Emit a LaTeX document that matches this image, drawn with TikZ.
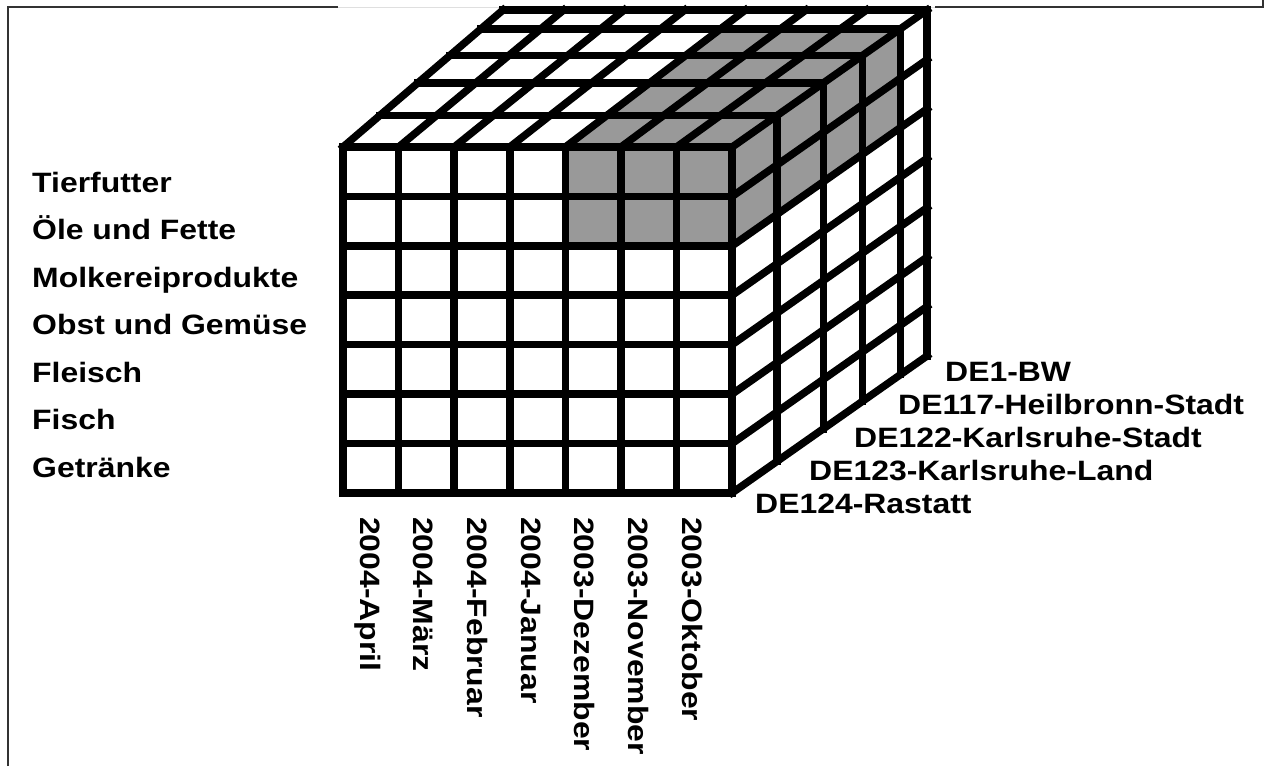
\documentclass[tikz,border=0pt]{standalone}
\usepackage{fontspec}
\setmainfont{Liberation Sans}[FakeStretch=1.14]
\definecolor{cellgray}{RGB}{153,153,153}
\newcommand{\drawc}{\draw[line width=7.5pt, line cap=rect]}
\tikzset{lbl/.style={font=\bfseries\fontsize{28}{30}\selectfont, inner sep=0pt, text height=20pt, text depth=0pt, anchor=west}}

\begin{document}
\begin{tikzpicture}[x=1pt, y=-1pt,
  declare function={cx(\u,\w)=343+55.6*\u+\w*(160+5*\u); cy(\v,\w)=147+49.4*\v-137*\w;}]
\useasboundingbox (0,0) rectangle (1266,766);
% Rahmen
\draw[line width=1.5pt, black!80] (8,766) -- (8,7) -- (338,7);
\draw[line width=1.5pt, black!80] (935,7) -- (1263,7) -- (1263,0);
\draw[gray!25] (338,7) -- (935,7);

% graue Zellen
\fill[cellgray] ({cx(4,0)},{cy(0,0)}) -- ({cx(7,0)},{cy(0,0)}) -- ({cx(7,0)},{cy(2,0)}) -- ({cx(4,0)},{cy(2,0)}) -- cycle;
\fill[cellgray] ({cx(4,0)},{cy(0,0)}) -- ({cx(7,0)},{cy(0,0)}) -- ({cx(7,0.862)},{cy(0,0.862)}) -- ({cx(4,0.862)},{cy(0,0.862)}) -- cycle;
\fill[cellgray] ({cx(7,0)},{cy(0,0)}) -- ({cx(7,0)},{cy(2,0)}) -- ({cx(7,0.862)},{cy(2,0.862)}) -- ({cx(7,0.862)},{cy(0,0.862)}) -- cycle;

% Vorderseite
\foreach \i in {0,...,7} {
  \drawc ({cx(\i,0)},{cy(0,0)}) -- ({cx(\i,0)},{cy(7,0)});
  \drawc ({cx(0,0)},{cy(\i,0)}) -- ({cx(7,0)},{cy(\i,0)});
}
% Oberseite
\foreach \i in {0,...,7}
  \drawc ({cx(\i,0)},{cy(0,0)}) -- ({cx(\i,1)},{cy(0,1)});
\foreach \t in {0.23,0.467,0.667,0.862,1}
  \drawc ({cx(0,\t)},{cy(0,\t)}) -- ({cx(7,\t)},{cy(0,\t)});
% rechte Seite
\foreach \i in {1,...,7}
  \drawc ({cx(7,0)},{cy(\i,0)}) -- ({cx(7,1)},{cy(\i,1)});
\foreach \t in {0.23,0.467,0.667,0.862,1}
  \drawc ({cx(7,\t)},{cy(0,\t)}) -- ({cx(7,\t)},{cy(7,\t)});

% Produkte
\foreach \txt [count=\n] in {Tierfutter, Öle und Fette, Molkereiprodukte, Obst und Gemüse, Fleisch, Fisch, Getränke}
  \node[lbl] (row\n) at (32,{182+47.5*(\n-1)}) {\txt};
% Monate
\foreach \txt [count=\n] in {2004-April, 2004-März, 2004-Februar, 2004-Januar, 2003-Dezember, 2003-November, 2003-Oktober}
  \node[lbl, rotate=-90] (mon\n) at ({370+53.7*(\n-1)},517) {\txt};
% Regionen
\node[lbl] (reg1) at (945,371) {DE1-BW};
\node[lbl] (reg2) at (898,404) {DE117-Heilbronn-Stadt};
\node[lbl] (reg3) at (854,437) {DE122-Karlsruhe-Stadt};
\node[lbl] (reg4) at (809,470) {DE123-Karlsruhe-Land};
\node[lbl] (reg5) at (755,503) {DE124-Rastatt};

\end{tikzpicture}
\end{document}
